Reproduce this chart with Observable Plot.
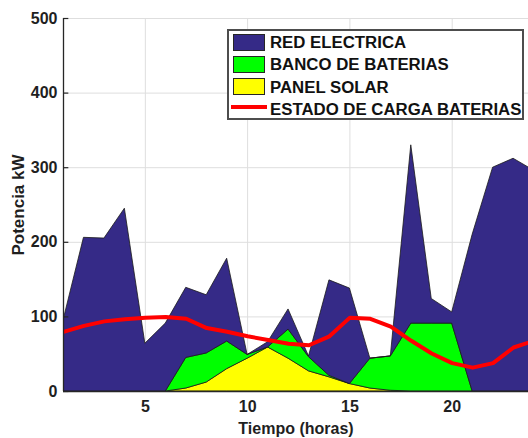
<!DOCTYPE html>
<html>
<head>
<meta charset="utf-8">
<script src="https://cdn.jsdelivr.net/npm/d3@7"></script>
<script src="https://cdn.jsdelivr.net/npm/@observablehq/plot@0.6"></script>
<style>
  html, body { margin: 0; padding: 0; background: #fff; overflow: hidden; }
  #chart { position: relative; width: 528px; height: 438px; font-family: "Liberation Sans", Arial, sans-serif; }
  #chart g[aria-label="y-axis label"] text { font-size: 17px; }
  .legend { position: absolute; left: 227px; top: 29px; width: 293px; height: 87px;
            border: 2px solid #4d4d4d; background: #fff; }
  .legend .row { position: absolute; left: 4px; height: 18px; display: flex; align-items: center; }
  .legend .sw { width: 30px; height: 15px; border: 1px solid #262626; box-sizing: content-box; }
  .legend .ln { width: 36px; height: 4px; margin-left: -2px; margin-right: -2px; transform: translateY(-2px); }
  .legend .tx { margin-left: 5px; font-weight: bold; font-size: 16.8px; color: #111; white-space: nowrap; transform: translateY(1px); }
</style>
</head>
<body>
<div id="chart"></div>
<script>
// Hourly power balance of the microgrid (kW)
const horas = d3.range(1, 25);
const redElectrica  = [95, 206, 205, 245, 64, 91, 94, 78, 111, 0, 7, 27, 1, 128, 128, 0, 0, 239, 33, 15, 210, 300, 312, 296];
const bancoBaterias = [0, 0, 0, 0, 0, 0, 41, 39, 37, 5, 0, 39, 19, 2, 0, 40, 46, 91, 91, 91, 0, 0, 0, 0];
const panelSolar    = [0, 0, 0, 0, 0, 0, 4, 12, 30, 44, 59, 44, 27, 19, 10, 4, 1, 0, 0, 0, 0, 0, 0, 0];
const estadoCarga   = [80, 88, 94, 97, 99, 100, 97.5, 85, 80, 74, 69, 64, 62, 74, 99, 97.5, 87, 68, 51, 38, 32, 38, 59, 68];

const nombres = ["PANEL SOLAR", "BANCO DE BATERIAS", "RED ELECTRICA"];
const colores = ["#ffff00", "#00ff00", "#352a87"];
const xTicks = [5, 10, 15, 20];
const yTicks = [0, 100, 200, 300, 400, 500];

// long table, bottom layer first so the stack builds solar -> batteries -> grid
const series = [panelSolar, bancoBaterias, redElectrica];
const filas = [];
series.forEach((vals, i) => vals.forEach((v, j) => filas.push({hora: horas[j], valor: v, serie: nombres[i]})));
const carga = horas.map((h, j) => ({hora: h, valor: estadoCarga[j]}));

const ink = "#1f1f1f";
const plot = Plot.plot({
  width: 528,
  height: 438,
  marginLeft: 63,
  marginRight: 0,
  marginTop: 18,
  marginBottom: 47,
  style: {fontFamily: "Liberation Sans, Arial, sans-serif", fontSize: "16px", fontWeight: "bold", color: ink, background: "#fff"},
  x: {domain: [1, 23.73]},
  y: {domain: [0, 500]},
  color: {domain: nombres, range: colores},
  marks: [
    Plot.gridX(xTicks, {stroke: "#dedede", strokeOpacity: 1, strokeWidth: 1}),
    Plot.gridY(yTicks, {stroke: "#dedede", strokeOpacity: 1, strokeWidth: 1}),
    Plot.areaY(filas, {x: "hora", y: "valor", z: "serie", fill: "serie", stroke: "#1a1a1a", strokeWidth: 0.8, clip: true}),
    Plot.line(carga, {x: "hora", y: "valor", stroke: "#ff0000", strokeWidth: 4, strokeLinejoin: "round", clip: true}),
    Plot.ruleX([1], {stroke: "#262626", strokeWidth: 1.3}),
    Plot.ruleY([0], {stroke: "#262626", strokeWidth: 1.3}),
    Plot.ruleY(yTicks, {x1: 1, x2: 1.26, stroke: "#262626", strokeWidth: 1.2}),
    Plot.axisX(xTicks, {tickSize: 0, tickPadding: 9, tickFormat: d => d, label: "Tiempo (horas)", labelAnchor: "center", labelArrow: "none", labelOffset: 42, fontSize: 16, fontWeight: "bold"}),
    Plot.axisY(yTicks, {tickSize: 0, tickPadding: 6, tickFormat: d => d, label: "Potencia kW", labelAnchor: "center", labelArrow: "none", labelOffset: 52, fontSize: 16, fontWeight: "bold"})
  ]
});
const chart = document.getElementById("chart");
chart.appendChild(plot);

// legend box drawn over the upper-right of the frame
const legend = document.createElement("div");
legend.className = "legend";
const entradas = [
  {label: "RED ELECTRICA", color: colores[2], tipo: "area"},
  {label: "BANCO DE BATERIAS", color: colores[1], tipo: "area"},
  {label: "PANEL SOLAR", color: colores[0], tipo: "area"},
  {label: "ESTADO DE CARGA BATERIAS", color: "#ff0000", tipo: "line"}
];
entradas.forEach((e, i) => {
  const row = document.createElement("div");
  row.className = "row";
  row.style.top = (2 + i * 22.3) + "px";
  const sw = document.createElement("div");
  sw.className = e.tipo === "area" ? "sw" : "ln";
  sw.style.background = e.color;
  const tx = document.createElement("span");
  tx.className = "tx";
  tx.textContent = e.label;
  row.appendChild(sw);
  row.appendChild(tx);
  legend.appendChild(row);
});
chart.appendChild(legend);
</script>
</body>
</html>
